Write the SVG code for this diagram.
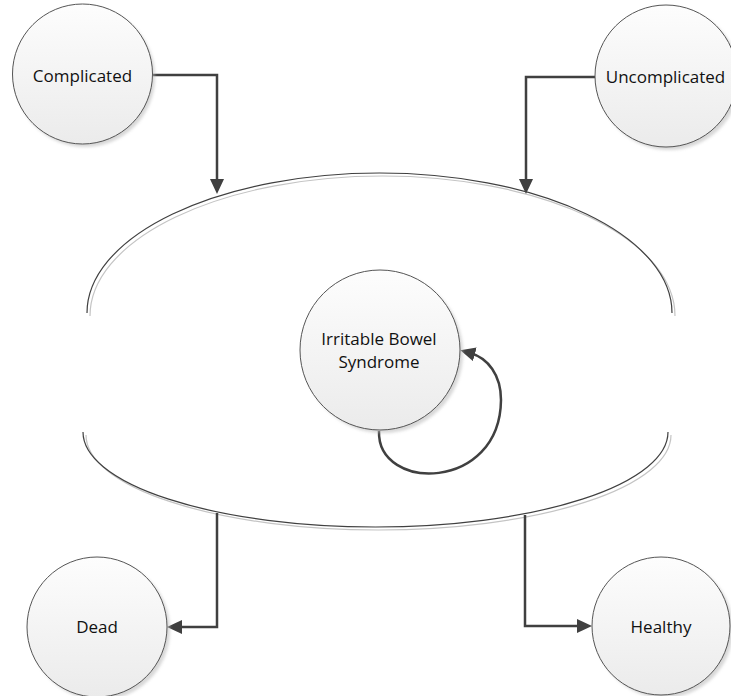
<svg xmlns="http://www.w3.org/2000/svg" width="731" height="696" viewBox="0 0 731 696">
  <style>
    .node { fill: url(#fillGrad); stroke: #555555; stroke-width: 1; }
    .shadow { fill: #b8b8b8; opacity: 0.55; }
    .label { font-family: "Open Sans", "Liberation Sans", sans-serif; font-size: 17px; fill: #111111; text-anchor: middle; }
    .conn { fill: none; stroke: #404040; stroke-width: 2.5; }
    .arc { fill: none; stroke: #404040; stroke-width: 1.2; }
    .arcShadow { fill: none; stroke: #c4c4c4; stroke-width: 1.2; }
  </style>
  <defs>
    <linearGradient id="fillGrad" x1="0" y1="0" x2="0" y2="1">
      <stop offset="0" stop-color="#fdfdfd"/>
      <stop offset="1" stop-color="#ebebeb"/>
    </linearGradient>
    <filter id="blur" x="-20%" y="-20%" width="140%" height="140%">
      <feGaussianBlur stdDeviation="1.5"/>
    </filter>
    <marker id="arrow" markerUnits="userSpaceOnUse" markerWidth="16" markerHeight="15" refX="5" refY="7" orient="auto">
      <path d="M0,0 L15,7 L0,14 Z" fill="#404040"/>
    </marker>
  </defs>
  <rect width="731" height="696" fill="#ffffff"/>

  <g id="container">
    <path class="arcShadow" d="M90,316 A292.5,140 0 0 1 675,316"/>
    <path class="arcShadow" d="M86,435 A292.5,95 0 0 0 671,435"/>
    <path class="arc" d="M87,313 A292.5,140 0 0 1 672,313"/>
    <path class="arc" d="M83,432 A292.5,95 0 0 0 668,432"/>
  </g>

  <g id="connectors">
    <path class="conn" d="M153,75 H217 V184" marker-end="url(#arrow)"/>
    <path class="conn" d="M595,77 H526 V184" marker-end="url(#arrow)"/>
    <path class="conn" d="M217,513 V627 H177" marker-end="url(#arrow)"/>
    <path class="conn" d="M525,515 V626 H582" marker-end="url(#arrow)"/>
    <path class="conn" d="M379,431 C377,492 500,492 501,400 C501,375 488,358 470,353" marker-end="url(#arrow)"/>
  </g>

  <g id="complicated">
    <circle class="shadow" cx="85" cy="77" r="70" filter="url(#blur)"/>
    <circle class="node" cx="82.5" cy="74" r="70"/>
    <text class="label" x="82.5" y="82">Complicated</text>
  </g>

  <g id="uncomplicated">
    <circle class="shadow" cx="669" cy="79" r="71" filter="url(#blur)"/>
    <circle class="node" cx="666" cy="76" r="71"/>
    <text class="label" x="665.5" y="83">Uncomplicated</text>
  </g>

  <g id="ibs">
    <circle class="shadow" cx="383" cy="353" r="80" filter="url(#blur)"/>
    <circle class="node" cx="380" cy="350" r="80"/>
    <text class="label" x="379" y="345">Irritable Bowel</text>
    <text class="label" x="379" y="368">Syndrome</text>
  </g>

  <g id="dead">
    <circle class="shadow" cx="100" cy="630" r="70" filter="url(#blur)"/>
    <circle class="node" cx="97" cy="627" r="70"/>
    <text class="label" x="97" y="633">Dead</text>
  </g>

  <g id="healthy">
    <circle class="shadow" cx="664" cy="629" r="69" filter="url(#blur)"/>
    <circle class="node" cx="661" cy="626" r="69"/>
    <text class="label" x="661" y="633">Healthy</text>
  </g>
</svg>
